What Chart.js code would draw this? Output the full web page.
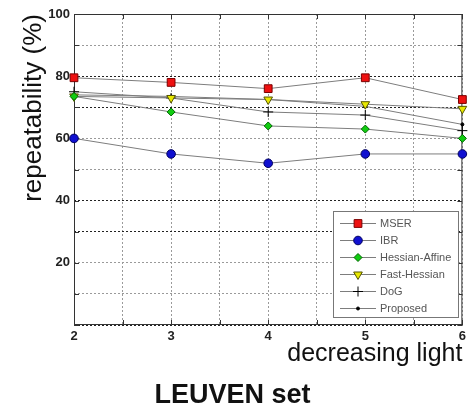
<!DOCTYPE html>
<html>
<head>
<meta charset="utf-8">
<script src="https://cdn.jsdelivr.net/npm/chart.js@4.4.1/dist/chart.umd.min.js"></script>
<style>
  html, body { margin: 0; padding: 0; background: #fff; }
  #wrap { width: 470px; height: 412px; }
</style>
</head>
<body>
<div id="wrap"><canvas id="repChart" width="470" height="412"></canvas></div>
<script>
// valores de repetibilidade (%) por nivel de luz
var niveis = [2, 3, 4, 5, 6];
var mser = [79.5, 78, 76, 79.5, 72.5];
var ibr = [60, 55, 52, 55, 55];
var hessianAffine = [73.5, 68.5, 64, 63, 60];
var fastHessian = [73.5, 73, 72.5, 71, 69.5];
var dog = [75, 73, 68.5, 67.5, 62.5];
var proposto = [74, 73.5, 72.5, 70.3, 64.5];

var fonte = "'Liberation Sans', Arial, Helvetica, sans-serif";

function pontos(valores) {
    return valores.map(function (v, i) { return { x: niveis[i], y: v }; });
}

function serie(label, valores, estilo) {
    return Object.assign({
        label: label,
        data: pontos(valores),
        borderColor: '#7d7d7d',
        borderWidth: 1,
        pointBorderWidth: 1,
        pointHoverRadius: 0,
        fill: false,
        tension: 0,
        clip: false
    }, estilo);
}

// Moldura da area do grafico com marcas internas (estilo MATLAB)
var molduraPlugin = {
    id: 'moldura',
    beforeDatasetsDraw: function (chart) {
        var ctx = chart.ctx, a = chart.chartArea;
        var sx = chart.scales.x, sy = chart.scales.y;
        ctx.save();
        ctx.strokeStyle = '#333';
        ctx.lineWidth = 1;
        ctx.strokeRect(a.left + 0.5, a.top + 0.5, a.right - a.left - 1, a.bottom - a.top - 1);
        ctx.beginPath();
        sx.ticks.forEach(function (t) {
            var px = Math.round(sx.getPixelForValue(t.value)) + 0.5;
            ctx.moveTo(px, a.bottom); ctx.lineTo(px, a.bottom - 5);
            ctx.moveTo(px, a.top); ctx.lineTo(px, a.top + 5);
        });
        sy.ticks.forEach(function (t) {
            var py = Math.round(sy.getPixelForValue(t.value)) + 0.5;
            ctx.moveTo(a.left, py); ctx.lineTo(a.left + 5, py);
            ctx.moveTo(a.right, py); ctx.lineTo(a.right - 5, py);
        });
        ctx.stroke();
        ctx.restore();
    }
};

// Legenda dentro da area, canto inferior direito
var legendaPlugin = {
    id: 'legendaCaixa',
    afterDatasetsDraw: function (chart) {
        var ctx = chart.ctx;
        var bx = 333, by = 211, bw = 125, bh = 106;
        ctx.save();
        ctx.fillStyle = '#fff';
        ctx.fillRect(bx, by, bw, bh);
        ctx.strokeStyle = '#777';
        ctx.lineWidth = 1;
        ctx.strokeRect(bx + 0.5, by + 0.5, bw, bh);
        chart.data.datasets.forEach(function (ds, i) {
            var y = Math.round(by + 12 + i * 16.9) + 0.5;
            ctx.strokeStyle = '#7d7d7d';
            ctx.lineWidth = 1;
            ctx.beginPath();
            ctx.moveTo(340, y); ctx.lineTo(376, y);
            ctx.stroke();
            ctx.fillStyle = ds.pointBackgroundColor;
            ctx.strokeStyle = ds.pointBorderColor;
            ctx.lineWidth = ds.pointBorderWidth;
            Chart.helpers.drawPoint(ctx, {
                pointStyle: ds.pointStyle,
                rotation: ds.pointRotation || 0,
                radius: ds.pointRadius,
                borderWidth: ds.pointBorderWidth
            }, 358, y);
            ctx.fillStyle = '#555';
            ctx.font = '11px ' + fonte;
            ctx.textBaseline = 'middle';
            ctx.textAlign = 'left';
            ctx.fillText(ds.label, 380, y);
        });
        ctx.restore();
    }
};

var repChart = new Chart(document.getElementById('repChart').getContext('2d'), {
    type: 'line',
    data: {
        datasets: [
            serie('MSER', mser, {
                pointStyle: 'rect', pointRadius: 5.5,
                pointBackgroundColor: '#ee1111', pointBorderColor: '#7a0000'
            }),
            serie('IBR', ibr, {
                pointStyle: 'circle', pointRadius: 4.3,
                pointBackgroundColor: '#1010d0', pointBorderColor: '#000060'
            }),
            serie('Hessian-Affine', hessianAffine, {
                pointStyle: 'rectRot', pointRadius: 4,
                pointBackgroundColor: '#11cc11', pointBorderColor: '#006600'
            }),
            serie('Fast-Hessian', fastHessian, {
                pointStyle: 'triangle', pointRotation: 180, pointRadius: 5,
                pointBackgroundColor: '#e8e800', pointBorderColor: '#555500'
            }),
            serie('DoG', dog, {
                pointStyle: 'cross', pointRadius: 5,
                pointBackgroundColor: '#000', pointBorderColor: '#000'
            }),
            serie('Proposed', proposto, {
                pointStyle: 'circle', pointRadius: 1.5,
                pointBackgroundColor: '#000', pointBorderColor: '#000'
            })
        ]
    },
    options: {
        responsive: false,
        animation: false,
        events: [],
        layout: {
            padding: { top: 14, right: 5, left: 0, bottom: 0 }
        },
        scales: {
            x: {
                type: 'linear',
                position: 'bottom',
                min: 2,
                max: 6,
                afterFit: function (s) { s.height = 54.6; },
                grid: {
                    color: '#9a9a9a',
                    drawTicks: false
                },
                border: {
                    display: false,
                    dash: [2, 2]
                },
                ticks: {
                    stepSize: 0.5,
                    padding: 4,
                    color: '#222',
                    font: { family: fonte, size: 13, weight: 'bold' },
                    callback: function (v) { return Number.isInteger(v) ? v : ''; }
                },
                title: {
                    display: true,
                    text: 'decreasing light',
                    align: 'end',
                    color: '#111',
                    font: { family: fonte, size: 25, lineHeight: 1 },
                    padding: { top: 0, bottom: 13 }
                }
            },
            y: {
                type: 'linear',
                position: 'left',
                min: 0,
                max: 100,
                afterFit: function (s) { s.width = 74; },
                grid: {
                    drawTicks: false,
                    color: function (c) {
                        var k = Math.round(c.tick.value / 10) % 4;
                        return (k === 0 || k === 3) ? '#222' : '#9a9a9a';
                    }
                },
                border: {
                    display: false,
                    dash: [2, 2]
                },
                ticks: {
                    stepSize: 10,
                    padding: 4,
                    color: '#222',
                    font: { family: fonte, size: 13, weight: 'bold' },
                    callback: function (v) { return (v > 0 && v % 20 === 0) ? v : ''; }
                },
                title: {
                    display: true,
                    text: 'repeatability (%)',
                    align: 'end',
                    color: '#111',
                    font: { family: fonte, size: 26, lineHeight: 1 },
                    padding: { top: 21, bottom: 0 }
                }
            }
        },
        plugins: {
            legend: { display: false },
            tooltip: { enabled: false },
            title: {
                display: true,
                position: 'bottom',
                text: 'LEUVEN set',
                color: '#111',
                font: { family: fonte, size: 27, weight: 'bold', lineHeight: 1.2 },
                padding: { top: 0, bottom: 0 }
            }
        }
    },
    plugins: [molduraPlugin, legendaPlugin]
});
</script>
</body>
</html>
